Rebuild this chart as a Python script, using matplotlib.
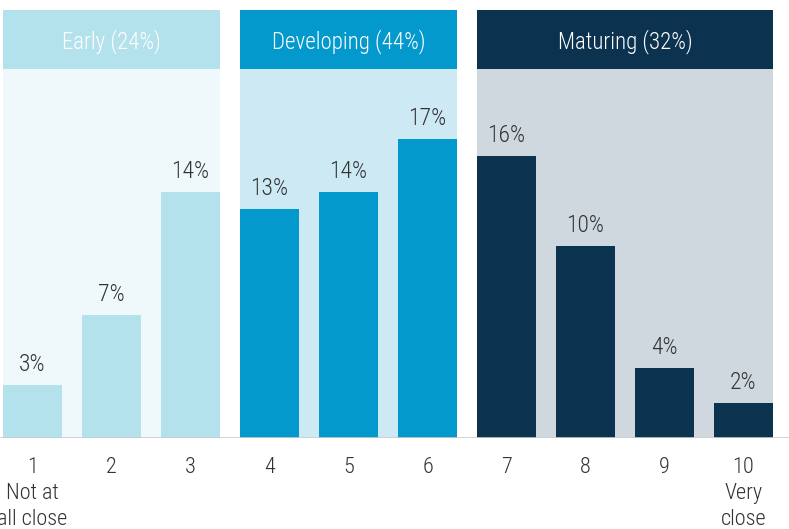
import matplotlib
matplotlib.use("Agg")
import matplotlib.pyplot as plt
from matplotlib import font_manager

# pick a narrow font if we have one
names = {f.name for f in font_manager.fontManager.ttflist}
family = 'DejaVu Sans'
for cand in ['Roboto Condensed', 'Liberation Sans Narrow', 'Open Sans Condensed', 'Roboto', 'Liberation Sans']:
    if cand in names:
        family = cand
        break
plt.rcParams['font.family'] = [family, 'DejaVu Sans']
plt.rcParams['font.weight'] = 'light'

# data
categories = ['1\nNot at\nall close', '2', '3', '4', '5', '6', '7', '8', '9', '10\nVery\nclose']
values = [3, 7, 14, 13, 14, 17, 16, 10.9, 4, 2]
value_labels = ['3%', '7%', '14%', '13%', '14%', '17%', '16%', '10%', '4%', '2%']
groups = ['Early (24%)', 'Developing (44%)', 'Maturing (32%)']
group_members = [[0, 1, 2], [3, 4, 5], [6, 7, 8, 9]]

head_colors = ['#b3e2ed', '#0499cd', '#0b3350']
panel_colors = ['#eff8fb', '#cdeaf4', '#d0d8df']
head_text = ['#ffffff', '#ffffff', '#ffffff']

fig = plt.figure(figsize=(7.89, 5.29), dpi=100)
ax = fig.add_axes([0, 91 / 529, 1, 438 / 529])

bar_w = 59 / 79
x = list(range(1, len(values) + 1))
px = 17.6  # pixels per percent
ax.set_xlim(1 - 32.5 / 79, 1 + (789 - 32.5) / 79)
ax.set_ylim(0, 438 / px)

panel_top = (438 - 69) / px
head_top = (438 - 10) / px

for g, members in enumerate(group_members):
    left = x[members[0]] - bar_w / 2
    right = x[members[-1]] + bar_w / 2
    ax.fill_between([left, right], 0, panel_top, color=panel_colors[g], lw=0, zorder=0)
    ax.fill_between([left, right], panel_top, head_top, color=head_colors[g], lw=0, zorder=0)
    ax.text((left + right) / 2, (panel_top + head_top) / 2 - 0.1, groups[g], ha='center', va='center',
            color=head_text[g], fontsize=16.5)
    for i in members:
        ax.bar(x[i], values[i], width=bar_w, color=head_colors[g], zorder=2)
        ax.text(x[i], values[i] + 9 / px, value_labels[i], ha='center', va='bottom',
                color='#333333', fontsize=17)

ax.axhline(0, color='#cccccc', lw=1.2, zorder=3)

ax.set_xticks(x)
ax.set_xticklabels(categories, fontsize=16, color='#333333', linespacing=1.3)
ax.tick_params(axis='x', length=0, pad=14)
ax.set_yticks([])
for s in ax.spines.values():
    s.set_visible(False)

fig.savefig('out.png', dpi=100)
